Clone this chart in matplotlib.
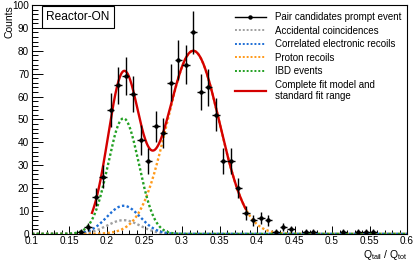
import numpy as np
import matplotlib
matplotlib.use("Agg")
import matplotlib.pyplot as plt
from matplotlib.lines import Line2D
from matplotlib.ticker import MultipleLocator

plt.rcParams['font.family'] = ['Liberation Sans', 'DejaVu Sans']

# Histogram of pair candidates (non-empty bins only)
bin_centers = [0.165, 0.175, 0.185, 0.195, 0.205, 0.215, 0.225, 0.235, 0.245, 0.255,
               0.265, 0.275, 0.285, 0.295, 0.305, 0.315, 0.325, 0.335, 0.345, 0.355,
               0.365, 0.375, 0.385, 0.395, 0.405, 0.415, 0.425, 0.435, 0.445, 0.465,
               0.475, 0.515, 0.535, 0.545, 0.555]
counts = [1, 3, 16, 25, 54, 65, 69, 61, 41, 32,
          47, 44, 66, 76, 74, 88, 62, 64, 52, 32,
          32, 20, 9, 6, 7, 6, 1, 3, 2, 1,
          1, 1, 1, 1, 1]
bin_width = 0.01

# Fit components: (amplitude, mean, sigma)
accidental_pars = [6.0, 0.222, 0.022]
electronic_pars = [12.3, 0.222, 0.022]
proton_pars = [80.0, 0.315, 0.035]
ibd_pars = [50.5, 0.222, 0.0205]
fit_range = [0.18, 0.385]

def gaus(x, pars):
    a, m, s = pars
    return a * np.exp(-0.5 * ((x - m) / s) ** 2)

x_full = np.linspace(0.1, 0.6, 1000)
x_fit = np.linspace(fit_range[0], fit_range[1], 400)

fig = plt.figure(figsize=(4.15, 2.64), dpi=100)
ax = fig.add_axes([0.077, 0.114, 0.904, 0.867])

dot = (0, (1, 1))
ax.plot(x_full, gaus(x_full, accidental_pars), color='#a0a0a0', lw=1.7, ls=dot)
ax.plot(x_full, gaus(x_full, electronic_pars), color='#1f6fd6', lw=1.7, ls=dot)
ax.plot(x_full, gaus(x_full, proton_pars), color='#ff9a1a', lw=1.7, ls=dot)
ax.plot(x_full, gaus(x_full, ibd_pars), color='#22a022', lw=1.7, ls=dot)

total = (gaus(x_fit, accidental_pars) + gaus(x_fit, electronic_pars)
         + gaus(x_fit, proton_pars) + gaus(x_fit, ibd_pars))
ax.plot(x_fit, total, color='#d40000', lw=1.7)

errs = np.sqrt(counts)
ax.errorbar(bin_centers, counts, yerr=errs, xerr=bin_width / 2, fmt='o', color='black',
            ms=2.2, elinewidth=1.0, capsize=0, zorder=5)

ax.set_xlim(0.1, 0.6)
ax.set_ylim(0, 100)
ax.xaxis.set_minor_locator(MultipleLocator(0.01))
ax.yaxis.set_major_locator(MultipleLocator(10))
ax.yaxis.set_minor_locator(MultipleLocator(2))
ax.set_xticks(np.arange(0.1, 0.6001, 0.05))
ax.set_xticklabels(['0.1', '0.15', '0.2', '0.25', '0.3', '0.35', '0.4', '0.45', '0.5', '0.55', '0.6'])
ax.tick_params(axis='both', which='both', direction='in', labelsize=7.2, width=0.7,
               top=False, right=False, pad=2)
ax.tick_params(axis='x', which='major', length=6, pad=1.5)
ax.tick_params(axis='x', which='minor', length=3)
ax.tick_params(axis='y', which='major', length=8)
ax.tick_params(axis='y', which='minor', length=4)
for sp in ax.spines.values():
    sp.set_linewidth(0.8)

# Axis titles at the corners, ROOT style
fig.text(0.012, 0.981, 'Counts', rotation=90, ha='left', va='top', fontsize=7.5)
fig.text(0.981, 0.022, r'Q$_{\mathregular{tail}}$ / Q$_{\mathregular{tot}}$', ha='right',
         va='baseline', fontsize=7.5)

# Label box
fig.text(0.188, 0.935, 'Reactor-ON', ha='center', va='center', fontsize=8.6,
         bbox=dict(boxstyle='square,pad=0.4', fc='white', ec='black', lw=0.8))

handles = [
    Line2D([], [], color='black', lw=1.0, marker='o', ms=2.2),
    Line2D([], [], color='#a0a0a0', lw=1.4, ls=dot),
    Line2D([], [], color='#1f6fd6', lw=1.4, ls=dot),
    Line2D([], [], color='#ff9a1a', lw=1.4, ls=dot),
    Line2D([], [], color='#22a022', lw=1.4, ls=dot),
    Line2D([], [], color='#d40000', lw=1.6),
]
labels = ['Pair candidates prompt event', 'Accidental coincidences',
          'Correlated electronic recoils', 'Proton recoils', 'IBD events',
          'Complete fit model and\nstandard fit range']
ax.legend(handles, labels, loc='upper left', bbox_to_anchor=(0.53, 0.985), frameon=False,
          fontsize=7.0, handlelength=3.2, handletextpad=0.9, labelspacing=0.36,
          borderaxespad=0)

fig.savefig('out.png', dpi=100)
